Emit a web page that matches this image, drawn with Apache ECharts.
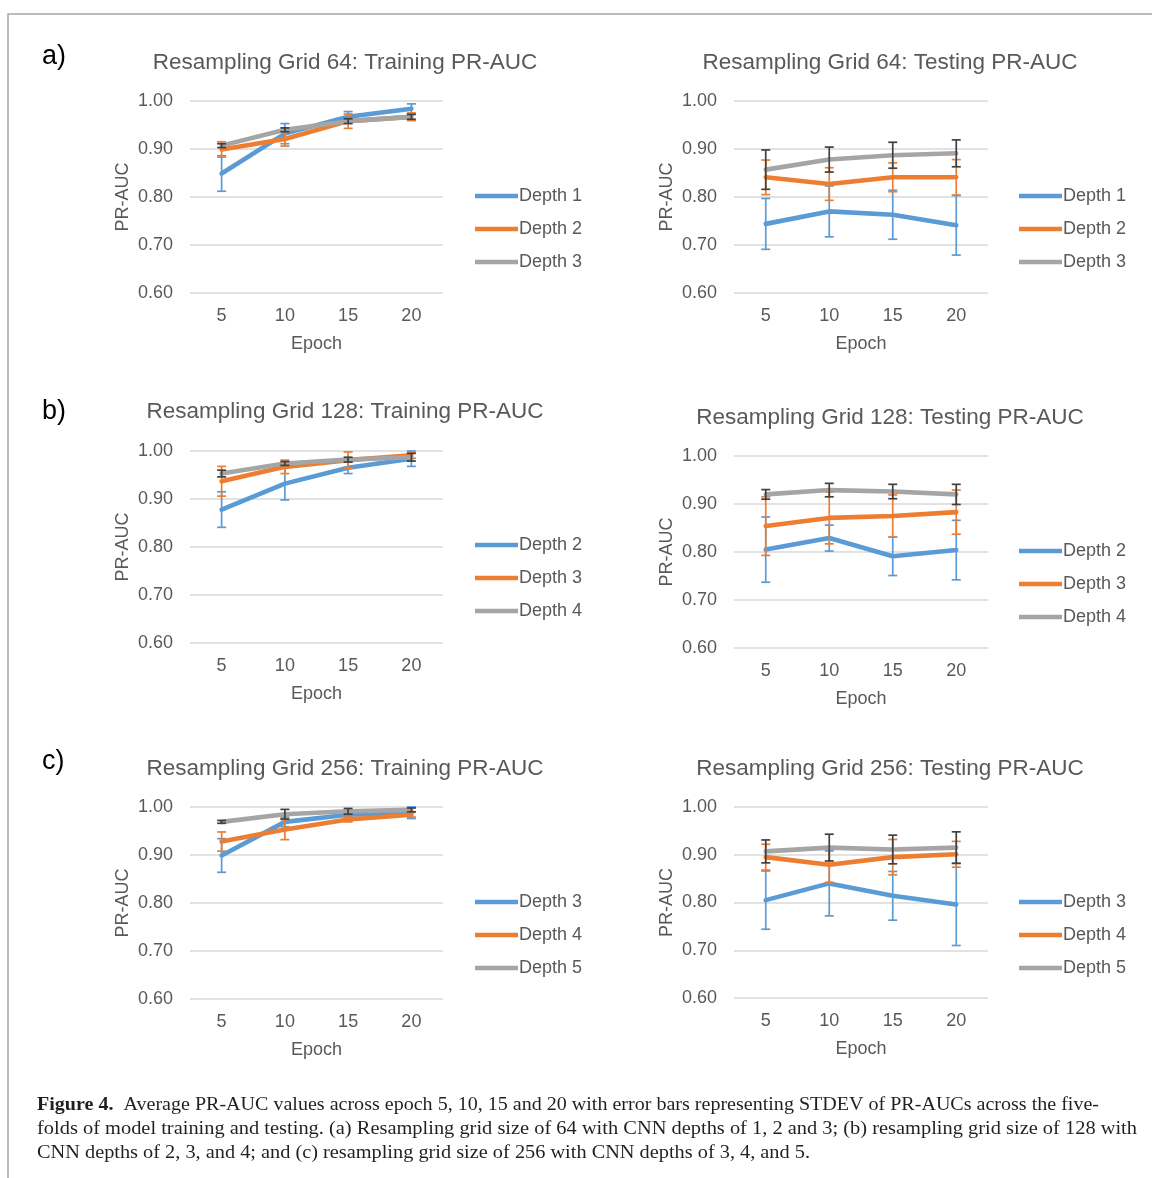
<!DOCTYPE html>
<html>
<head>
<meta charset="utf-8">
<script src="https://cdn.jsdelivr.net/npm/echarts@6/dist/echarts.min.js"></script>
<style>
html,body{margin:0;padding:0;background:#fff;}
#chart{width:1152px;height:1178px;}
</style>
</head>
<body>
<div id="chart"></div>
<script>
// ---------- DATA ----------
const epochs = ['5', '10', '15', '20'];
const yTicks = [0.6, 0.7, 0.8, 0.9, 1.0];

// Grid 64 - Training
const g64TrainD1 = [0.849, 0.932, 0.967, 0.984];
const g64TrainD1Sd = [0.037, 0.021, 0.011, 0.010];
const g64TrainD2 = [0.899, 0.921, 0.958, 0.967];
const g64TrainD2Sd = [0.016, 0.015, 0.015, 0.008];
const g64TrainD3 = [0.907, 0.940, 0.958, 0.967];
const g64TrainD3Sd = [0.004, 0.004, 0.005, 0.005];
// Grid 64 - Testing
const g64TestD1 = [0.744, 0.770, 0.763, 0.741];
const g64TestD1Sd = [0.053, 0.053, 0.051, 0.062];
const g64TestD2 = [0.841, 0.827, 0.841, 0.841];
const g64TestD2Sd = [0.036, 0.034, 0.030, 0.037];
const g64TestD3 = [0.857, 0.878, 0.887, 0.891];
const g64TestD3Sd = [0.041, 0.026, 0.027, 0.028];
// Grid 128 - Training
const g128TrainD2 = [0.878, 0.932, 0.965, 0.984];
const g128TrainD2Sd = [0.037, 0.034, 0.012, 0.016];
const g128TrainD3 = [0.937, 0.967, 0.981, 0.991];
const g128TrainD3Sd = [0.031, 0.014, 0.017, 0.006];
const g128TrainD4 = [0.953, 0.974, 0.982, 0.987];
const g128TrainD4Sd = [0.007, 0.004, 0.005, 0.008];
// Grid 128 - Testing
const g128TestD2 = [0.805, 0.829, 0.791, 0.804];
const g128TestD2Sd = [0.068, 0.027, 0.040, 0.062];
const g128TestD3 = [0.854, 0.871, 0.875, 0.883];
const g128TestD3Sd = [0.061, 0.054, 0.044, 0.046];
const g128TestD4 = [0.920, 0.929, 0.926, 0.920];
const g128TestD4Sd = [0.010, 0.014, 0.015, 0.021];
// Grid 256 - Training
const g256TrainD3 = [0.899, 0.969, 0.984, 0.988];
const g256TrainD3Sd = [0.035, 0.010, 0.005, 0.012];
const g256TrainD4 = [0.928, 0.953, 0.974, 0.984];
const g256TrainD4Sd = [0.020, 0.021, 0.005, 0.005];
const g256TrainD5 = [0.969, 0.985, 0.991, 0.994];
const g256TrainD5Sd = [0.003, 0.010, 0.006, 0.004];
// Grid 256 - Testing
const g256TestD3 = [0.805, 0.840, 0.814, 0.796];
const g256TestD3Sd = [0.061, 0.068, 0.051, 0.086];
const g256TestD4 = [0.895, 0.879, 0.895, 0.901];
const g256TestD4Sd = [0.027, 0.037, 0.037, 0.027];
const g256TestD5 = [0.907, 0.915, 0.911, 0.915];
const g256TestD5Sd = [0.024, 0.028, 0.030, 0.033];

const panelTitles = [
  'Resampling Grid 64: Training PR-AUC',
  'Resampling Grid 64: Testing PR-AUC',
  'Resampling Grid 128: Training PR-AUC',
  'Resampling Grid 128: Testing PR-AUC',
  'Resampling Grid 256: Training PR-AUC',
  'Resampling Grid 256: Testing PR-AUC'
];
const depthNames64 = ['Depth 1', 'Depth 2', 'Depth 3'];
const depthNames128 = ['Depth 2', 'Depth 3', 'Depth 4'];
const depthNames256 = ['Depth 3', 'Depth 4', 'Depth 5'];
const panelLetters = ['a)', 'b)', 'c)'];
const captionLines = [
  'Average PR-AUC values across epoch 5, 10, 15 and 20 with error bars representing STDEV of PR-AUCs across the five-',
  'folds of model training and testing. (a) Resampling grid size of 64 with CNN depths of 1, 2 and 3; (b) resampling grid size of 128 with',
  'CNN depths of 2, 3, and 4; and (c) resampling grid size of 256 with CNN depths of 3, 4, and 5.'
];
const captionLabel = 'Figure 4.';

// ---------- PANELS (built from data) ----------
const panels = [
  { title: panelTitles[0], names: depthNames64, means: [g64TrainD1, g64TrainD2, g64TrainD3], sds: [g64TrainD1Sd, g64TrainD2Sd, g64TrainD3Sd] },
  { title: panelTitles[1], names: depthNames64, means: [g64TestD1, g64TestD2, g64TestD3], sds: [g64TestD1Sd, g64TestD2Sd, g64TestD3Sd] },
  { title: panelTitles[2], names: depthNames128, means: [g128TrainD2, g128TrainD3, g128TrainD4], sds: [g128TrainD2Sd, g128TrainD3Sd, g128TrainD4Sd] },
  { title: panelTitles[3], names: depthNames128, means: [g128TestD2, g128TestD3, g128TestD4], sds: [g128TestD2Sd, g128TestD3Sd, g128TestD4Sd] },
  { title: panelTitles[4], names: depthNames256, means: [g256TrainD3, g256TrainD4, g256TrainD5], sds: [g256TrainD3Sd, g256TrainD4Sd, g256TrainD5Sd] },
  { title: panelTitles[5], names: depthNames256, means: [g256TestD3, g256TestD4, g256TestD5], sds: [g256TestD3Sd, g256TestD4Sd, g256TestD5Sd] }
];

// ---------- LAYOUT / STYLE ----------
const layout = [
  { left: 190, top: 101, width: 253, height: 192, tx: 345, ty: 63,  lx: 475,  ly: 187 },
  { left: 734, top: 101, width: 254, height: 192, tx: 890, ty: 63,  lx: 1019, ly: 187 },
  { left: 190, top: 451, width: 253, height: 192, tx: 345, ty: 412, lx: 475,  ly: 536 },
  { left: 734, top: 456, width: 254, height: 192, tx: 890, ty: 418, lx: 1019, ly: 542 },
  { left: 190, top: 807, width: 253, height: 192, tx: 345, ty: 769, lx: 475,  ly: 893 },
  { left: 734, top: 807, width: 254, height: 191, tx: 890, ty: 769, lx: 1019, ly: 893 }
];
const letterPos = [[42, 57], [42, 412], [42, 762]];
const lineColors = ['#5B9BD5', '#ED7D31', '#A5A5A5'];
const errColors = ['#5B9BD5', '#ED7D31', '#404040'];
const FONT = '"Liberation Sans", Arial, sans-serif';
const SERIF = '"Liberation Serif", "Times New Roman", serif';
const txtColor = '#595959';

const grids = [], xAxes = [], yAxes = [], series = [], legends = [], graphics = [];

panels.forEach((p, i) => {
  const L = layout[i];
  grids.push({ left: L.left, top: L.top, width: L.width, height: L.height, containLabel: false });
  xAxes.push({
    type: 'category', gridIndex: i, data: epochs, boundaryGap: true,
    name: 'Epoch', nameLocation: 'middle', nameGap: 42,
    nameTextStyle: { fontFamily: FONT, fontSize: 18, color: txtColor },
    axisLine: { show: false }, axisTick: { show: false },
    axisLabel: { fontFamily: FONT, fontSize: 18, color: txtColor, margin: 14 },
    splitLine: { show: false }
  });
  yAxes.push({
    type: 'value', gridIndex: i, min: yTicks[0], max: yTicks[yTicks.length - 1], interval: 0.1,
    name: 'PR-AUC', nameLocation: 'middle', nameGap: 58, nameRotate: 90,
    nameTextStyle: { fontFamily: FONT, fontSize: 18, color: txtColor },
    axisLine: { show: false }, axisTick: { show: false },
    axisLabel: { fontFamily: FONT, fontSize: 18, color: txtColor, margin: 17, formatter: v => v.toFixed(2) },
    splitLine: { lineStyle: { color: '#D9D9D9', width: 1.6 } }
  });
  const legendNames = [];
  p.names.forEach((nm, k) => {
    const sname = 'p' + i + '|' + nm;
    legendNames.push(sname);
    series.push({
      type: 'line', name: sname, xAxisIndex: i, yAxisIndex: i,
      data: p.means[k], color: lineColors[k], z: 2 + 2 * k,
      symbol: 'none', showSymbol: false, silent: true,
      lineStyle: { width: 4.6, color: lineColors[k], cap: 'round', join: 'round' },
      emphasis: { disabled: true }, animation: false
    });
    const errData = p.means[k].map((m, j) => [j, m - p.sds[k][j], m + p.sds[k][j]]);
    const ec = errColors[k];
    series.push({
      type: 'custom', name: 'err' + i + '-' + k, xAxisIndex: i, yAxisIndex: i,
      z: 3 + 2 * k, silent: true, animation: false,
      encode: { x: 0, y: [1, 2] },
      data: errData,
      renderItem: (params, api) => {
        const x = api.value(0);
        const a = api.coord([x, api.value(1)]);
        const b = api.coord([x, api.value(2)]);
        const w = 4.5;
        const st = { stroke: ec, lineWidth: 1.7 };
        return {
          type: 'group', children: [
            { type: 'line', shape: { x1: a[0], y1: a[1], x2: b[0], y2: b[1] }, style: st },
            { type: 'line', shape: { x1: a[0] - w, y1: a[1], x2: a[0] + w, y2: a[1] }, style: st },
            { type: 'line', shape: { x1: b[0] - w, y1: b[1], x2: b[0] + w, y2: b[1] }, style: st }
          ]
        };
      }
    });
  });
  legends.push({
    orient: 'vertical', left: L.lx, top: L.ly, data: legendNames, padding: 0,
    icon: 'rect', itemWidth: 43, itemHeight: 4.5, itemGap: 15,
    formatter: n => n.split('|')[1], selectedMode: false,
    textStyle: { fontFamily: FONT, fontSize: 18, color: txtColor, lineHeight: 18, padding: [0, 0, 0, -4] }
  });
  graphics.push({
    type: 'text', x: L.tx, y: L.ty, silent: true,
    style: { text: p.title, fontFamily: FONT, fontSize: 22.5, fill: txtColor, align: 'center', verticalAlign: 'middle' }
  });
});

panelLetters.forEach((t, i) => {
  graphics.push({
    type: 'text', x: letterPos[i][0], y: letterPos[i][1], silent: true,
    style: { text: t, fontFamily: FONT, fontSize: 27, fill: '#000', align: 'left', verticalAlign: 'middle' }
  });
});

// frame
graphics.push({
  type: 'polyline', silent: true,
  shape: { points: [[8, 1178], [8, 14], [1152, 14]] },
  style: { stroke: '#a6a6a6', lineWidth: 1.5, fill: null }
});

// caption
const ctx = document.createElement('canvas').getContext('2d');
function measure(t, font) { ctx.font = font; return ctx.measureText(t).width; }
const capSize = 18.5;
const capFont = capSize + 'px ' + SERIF;
const capBold = 'bold ' + capSize + 'px ' + SERIF;
const capX = 37;
const capY = [1105, 1129, 1153];
const capEnd = [1099, 1137, 810];
captionLines.forEach((t, i) => {
  let w, text;
  if (i === 0) {
    text = '{b|' + captionLabel + '}  ' + t;
    w = measure(captionLabel, capBold) + measure('  ' + t, capFont);
  } else {
    text = t;
    w = measure(t, capFont);
  }
  const s = (capEnd[i] - capX) / w;
  graphics.push({
    type: 'text', x: capX, y: capY[i], scaleX: s, silent: true,
    style: {
      text: text, fontFamily: SERIF, fontSize: capSize, fill: '#231f20',
      align: 'left', verticalAlign: 'middle',
      rich: { b: { fontFamily: SERIF, fontSize: capSize, fontWeight: 'bold', fill: '#231f20' } }
    }
  });
});

const chart = echarts.init(document.getElementById('chart'), null, { renderer: 'canvas' });
chart.setOption({
  backgroundColor: '#ffffff',
  animation: false,
  grid: grids, xAxis: xAxes, yAxis: yAxes,
  legend: legends, series: series,
  graphic: graphics
});
</script>
</body>
</html>
